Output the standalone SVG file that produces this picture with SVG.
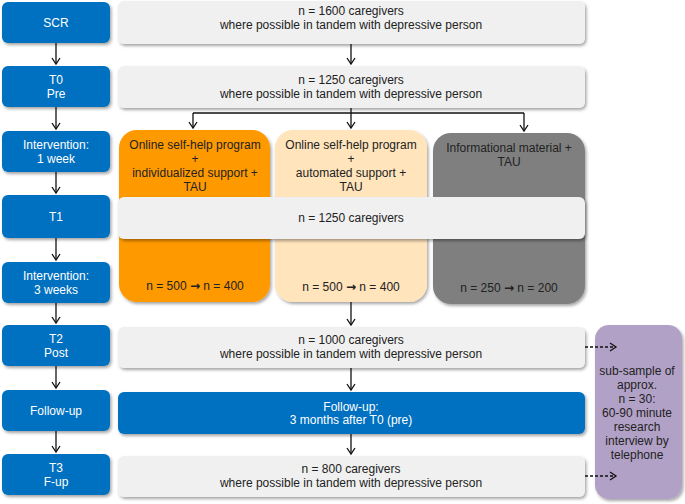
<svg xmlns="http://www.w3.org/2000/svg" width="685" height="504" viewBox="0 0 685 504">
<style>
text{font-family:"Liberation Sans",Arial,sans-serif;font-size:12px;text-anchor:middle}
.bl{fill:#0070C0}
.lg{fill:#F0F0F0}
.w{fill:#FFFFFF}
.d{fill:#222222}
.ar{font-family:"DejaVu Sans",sans-serif;font-weight:bold;font-size:12px}
.ln{stroke:#111;stroke-width:1.3;fill:none}
.ds{stroke-dasharray:3 2}
</style>
<defs>
<filter id="sh" x="-10%" y="-10%" width="130%" height="140%">
<feDropShadow dx="1.5" dy="2" stdDeviation="1.5" flood-color="#000" flood-opacity="0.35"/>
</filter>
<marker id="ah" markerWidth="10" markerHeight="10" refX="8" refY="5" orient="auto" markerUnits="userSpaceOnUse">
<path d="M2,1 L8,5 L2,9" fill="none" stroke="#111" stroke-width="1.3"/>
</marker>
</defs>

<g id="scr">
<rect x="2" y="2" width="108" height="41" rx="6" class="bl" filter="url(#sh)"/>
<text x="56" y="27" class="w">SCR</text>
</g>
<g id="scr-n">
<rect x="118" y="1" width="467" height="43" rx="6" class="lg" filter="url(#sh)"/>
<text x="351" y="15" class="d">n = 1600 caregivers</text>
<text x="351" y="29" class="d">where possible in tandem with depressive person</text>
</g>

<g id="t0">
<rect x="2" y="66" width="108" height="41" rx="6" class="bl" filter="url(#sh)"/>
<text x="56" y="84" class="w">T0</text>
<text x="56" y="98" class="w">Pre</text>
</g>
<g id="t0-n">
<rect x="118" y="66" width="467" height="42" rx="6" class="lg" filter="url(#sh)"/>
<text x="351" y="84" class="d">n = 1250 caregivers</text>
<text x="351" y="98" class="d">where possible in tandem with depressive person</text>
</g>

<g id="int1">
<rect x="2" y="131" width="108" height="41" rx="6" class="bl" filter="url(#sh)"/>
<text x="56" y="149" class="w">Intervention:</text>
<text x="56" y="163" class="w">1 week</text>
</g>

<g id="arm-individual">
<rect x="119" y="130" width="151" height="172" rx="18" fill="#FF9900" filter="url(#sh)"/>
<text x="195" y="149" class="d">Online self-help program</text>
<text x="195" y="163" class="d">+</text>
<text x="195" y="177" class="d">individualized support +</text>
<text x="195" y="191" class="d">TAU</text>
<text x="195" y="290" class="d">n = 500 <tspan class="ar">→</tspan> n = 400</text>
</g>
<g id="arm-automated">
<rect x="275" y="130" width="152" height="172" rx="18" fill="#FFE4BC" filter="url(#sh)"/>
<text x="351" y="149" class="d">Online self-help program</text>
<text x="351" y="163" class="d">+</text>
<text x="351" y="177" class="d">automated support +</text>
<text x="351" y="191" class="d">TAU</text>
<text x="351" y="291" class="d">n = 500 <tspan class="ar">→</tspan> n = 400</text>
</g>
<g id="arm-info">
<rect x="433" y="133" width="152" height="171" rx="18" fill="#7F7F7F" filter="url(#sh)"/>
<text x="509" y="152" class="d">Informational  material +</text>
<text x="509" y="166" class="d">TAU</text>
<text x="509" y="292" class="d">n = 250 <tspan class="ar">→</tspan> n = 200</text>
</g>

<g id="t1">
<rect x="2" y="195" width="108" height="43" rx="6" class="bl" filter="url(#sh)"/>
<text x="56" y="221" class="w">T1</text>
</g>
<g id="t1-n">
<rect x="118" y="197" width="467" height="42" rx="6" class="lg" filter="url(#sh)"/>
<text x="351" y="222" class="d">n = 1250 caregivers</text>
</g>

<g id="int3">
<rect x="2" y="262" width="108" height="41" rx="6" class="bl" filter="url(#sh)"/>
<text x="56" y="280" class="w">Intervention:</text>
<text x="56" y="294" class="w">3 weeks</text>
</g>

<g id="t2">
<rect x="2" y="325" width="108" height="41" rx="6" class="bl" filter="url(#sh)"/>
<text x="56" y="343" class="w">T2</text>
<text x="56" y="357" class="w">Post</text>
</g>
<g id="t2-n">
<rect x="118" y="327" width="467" height="41" rx="6" class="lg" filter="url(#sh)"/>
<text x="351" y="344" class="d">n = 1000 caregivers</text>
<text x="351" y="358" class="d">where possible in tandem with depressive person</text>
</g>

<g id="followup">
<rect x="2" y="390" width="108" height="41" rx="6" class="bl" filter="url(#sh)"/>
<text x="56" y="415" class="w">Follow-up</text>
</g>
<g id="followup-n">
<rect x="118" y="392" width="467" height="42" rx="6" class="bl" filter="url(#sh)"/>
<text x="351" y="411" class="w">Follow-up:</text>
<text x="351" y="424" class="w">3 months after T0 (pre)</text>
</g>

<g id="t3">
<rect x="2" y="454" width="108" height="41" rx="6" class="bl" filter="url(#sh)"/>
<text x="56" y="472" class="w">T3</text>
<text x="56" y="486" class="w">F-up</text>
</g>
<g id="t3-n">
<rect x="118" y="456" width="467" height="41" rx="6" class="lg" filter="url(#sh)"/>
<text x="351" y="473" class="d">n = 800 caregivers</text>
<text x="351" y="487" class="d">where possible in tandem with depressive person</text>
</g>

<g id="subsample">
<rect x="595" y="325" width="87" height="174" rx="14" fill="#B2A1C7" filter="url(#sh)"/>
<text x="637" y="375" class="d">sub-sample of</text>
<text x="637" y="389" class="d">approx.</text>
<text x="637" y="403" class="d">n = 30:</text>
<text x="637" y="417" class="d">60-90 minute</text>
<text x="637" y="431" class="d">research</text>
<text x="637" y="445" class="d">interview by</text>
<text x="637" y="459" class="d">telephone</text>
</g>

<g id="connectors">
<path class="ln" d="M56,43 V64" marker-end="url(#ah)"/>
<path class="ln" d="M56,107 V129" marker-end="url(#ah)"/>
<path class="ln" d="M56,172 V193" marker-end="url(#ah)"/>
<path class="ln" d="M56,238 V260" marker-end="url(#ah)"/>
<path class="ln" d="M56,303 V323" marker-end="url(#ah)"/>
<path class="ln" d="M56,366 V388" marker-end="url(#ah)"/>
<path class="ln" d="M56,431 V452" marker-end="url(#ah)"/>
<path class="ln" d="M351,44 V64" marker-end="url(#ah)"/>
<path class="ln" d="M351,108 V113 M193,113 H524"/>
<path class="ln" d="M193,113 V128" marker-end="url(#ah)"/>
<path class="ln" d="M351,113 V128" marker-end="url(#ah)"/>
<path class="ln" d="M524,113 V131" marker-end="url(#ah)"/>
<path class="ln" d="M351,302 V325" marker-end="url(#ah)"/>
<path class="ln" d="M351,368 V390" marker-end="url(#ah)"/>
<path class="ln" d="M351,434 V454" marker-end="url(#ah)"/>
<path class="ln ds" d="M585,347 H616" marker-end="url(#ah)"/>
<path class="ln ds" d="M585,476 H616" marker-end="url(#ah)"/>
</g>
</svg>
